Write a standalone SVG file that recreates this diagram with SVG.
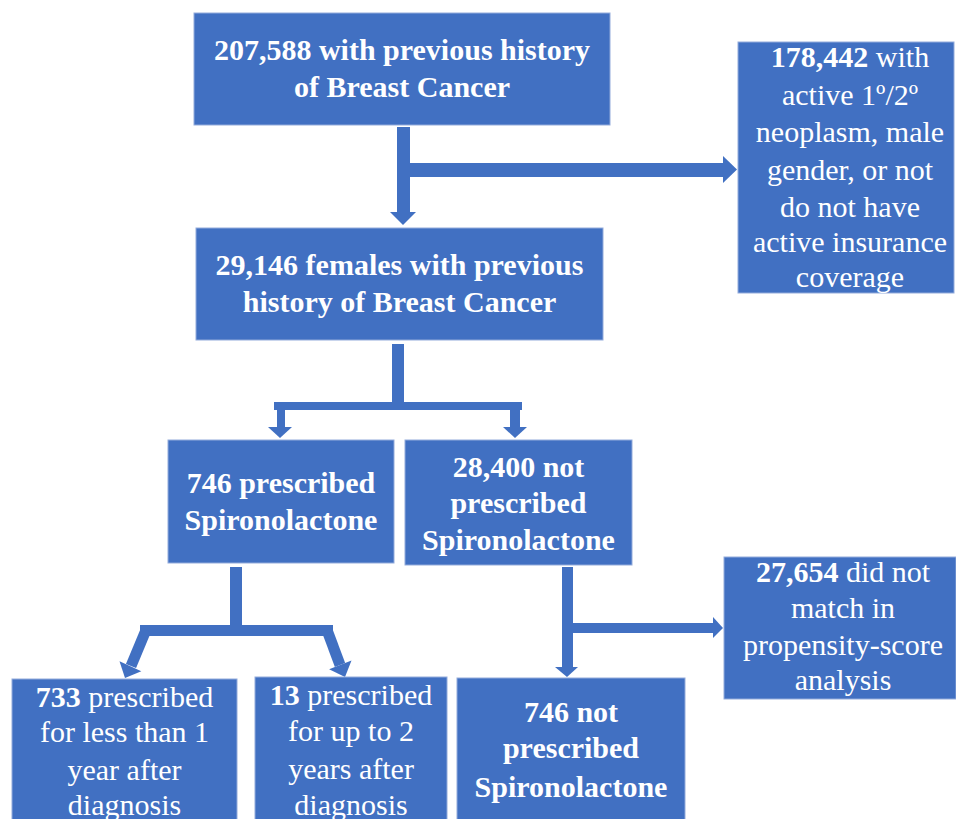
<svg xmlns="http://www.w3.org/2000/svg" width="956" height="819" viewBox="0 0 956 819">
<style>
.box{fill:#4170c2;stroke:#93abdb;stroke-width:1}
.t{font-family:'Liberation Serif','Times New Roman',serif;font-size:30px;fill:#ffffff;text-anchor:middle}
.b{font-weight:bold}
.arr{fill:#4170c2}
.arl{stroke:#4170c2;stroke-width:11;fill:none}
</style>
<rect width="956" height="819" fill="#ffffff"/>
<g id="connectors">
  <rect class="arr" x="397" y="127" width="13" height="86"/>
  <polygon class="arr" points="390,212 416,212 403,225"/>
  <rect class="arr" x="409" y="163" width="315" height="14"/>
  <polygon class="arr" points="723,156 737,169.5 723,183"/>
  <rect class="arr" x="392" y="344" width="12" height="60"/>
  <rect class="arr" x="274" y="402" width="248" height="8"/>
  <rect class="arr" x="277" y="409" width="8" height="19"/>
  <polygon class="arr" points="268,427 292,427 280,438"/>
  <rect class="arr" x="510" y="409" width="10" height="19"/>
  <polygon class="arr" points="503,427 527,427 515,438"/>
  <rect class="arr" x="230" y="567" width="12" height="60"/>
  <rect class="arr" x="140" y="625" width="193" height="11"/>
  <line class="arl" x1="146" y1="630" x2="131" y2="666"/>
  <polygon class="arr" points="141.3,671.2 119.5,661.2 125,678"/>
  <line class="arl" x1="327" y1="630" x2="340" y2="665"/>
  <polygon class="arr" points="351.5,660.5 329.1,669.3 345,677"/>
  <rect class="arr" x="562" y="567" width="11" height="101"/>
  <polygon class="arr" points="555,667 578,667 567,677"/>
  <rect class="arr" x="572" y="623" width="142" height="10"/>
  <polygon class="arr" points="713,617 723,628 713,638"/>
</g>
<g id="n1">
  <rect class="box" x="194" y="13" width="416" height="112"/>
  <text class="t b" x="402" y="60">207,588 with previous history</text>
  <text class="t b" x="402" y="97">of Breast Cancer</text>
</g>
<g id="n2">
  <rect class="box" x="738" y="42" width="216" height="251"/>
  <text class="t" x="850" y="67"><tspan class="b">178,442</tspan> with</text>
  <text class="t" x="850" y="105">active 1º/2º</text>
  <text class="t" x="850" y="142">neoplasm, male</text>
  <text class="t" x="850" y="180">gender, or not</text>
  <text class="t" x="850" y="217">do not have</text>
  <text class="t" x="850" y="252">active insurance</text>
  <text class="t" x="850" y="287">coverage</text>
</g>
<g id="n3">
  <rect class="box" x="196" y="228" width="407" height="112"/>
  <text class="t b" x="399.5" y="275">29,146 females with previous</text>
  <text class="t b" x="399.5" y="312">history of Breast Cancer</text>
</g>
<g id="n4">
  <rect class="box" x="168" y="440" width="226" height="123"/>
  <text class="t b" x="281" y="493">746 prescribed</text>
  <text class="t b" x="281" y="530">Spironolactone</text>
</g>
<g id="n5">
  <rect class="box" x="405" y="440" width="227" height="125"/>
  <text class="t b" x="518.5" y="477">28,400 not</text>
  <text class="t b" x="518.5" y="513">prescribed</text>
  <text class="t b" x="518.5" y="550">Spironolactone</text>
</g>
<g id="n6">
  <rect class="box" x="724" y="557" width="232" height="142"/>
  <text class="t" x="843" y="582"><tspan class="b">27,654</tspan> did not</text>
  <text class="t" x="843" y="618">match in</text>
  <text class="t" x="843" y="655">propensity-score</text>
  <text class="t" x="843" y="690">analysis</text>
</g>
<g id="n7">
  <rect class="box" x="12" y="679" width="225" height="150"/>
  <text class="t" x="124.5" y="707"><tspan class="b">733</tspan> prescribed</text>
  <text class="t" x="124.5" y="742">for less than 1</text>
  <text class="t" x="124.5" y="780">year after</text>
  <text class="t" x="124.5" y="815">diagnosis</text>
</g>
<g id="n8">
  <rect class="box" x="255" y="677" width="192" height="150"/>
  <text class="t" x="351" y="705"><tspan class="b">13</tspan> prescribed</text>
  <text class="t" x="351" y="741">for up to 2</text>
  <text class="t" x="351" y="779">years after</text>
  <text class="t" x="351" y="815">diagnosis</text>
</g>
<g id="n9">
  <rect class="box" x="457" y="678" width="228" height="150"/>
  <text class="t b" x="571" y="722">746 not</text>
  <text class="t b" x="571" y="758">prescribed</text>
  <text class="t b" x="571" y="797">Spironolactone</text>
</g>
</svg>
